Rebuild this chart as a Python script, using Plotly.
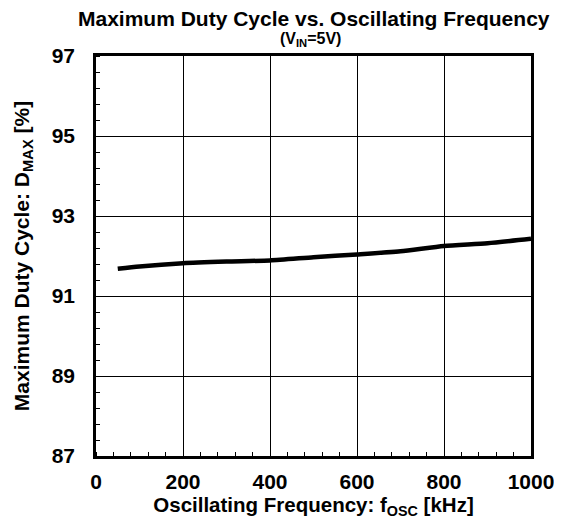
import plotly.graph_objects as go

freq_khz = [50, 100, 200, 300, 400, 500, 600, 700, 800, 900, 1000]
dmax_pct = [91.68, 91.74, 91.82, 91.86, 91.89, 91.97, 92.04, 92.12, 92.25, 92.32, 92.43]

x_ticks = [0, 200, 400, 600, 800, 1000]
y_ticks = [87, 89, 91, 93, 95, 97]

FONT = "Liberation Sans, Arial, sans-serif"

# the page body adds an 8px offset; plot area placed accordingly
L, T, PW, PH = 83, 48, 440, 400
W, H = 562, 526

fig = go.Figure()
fig.add_trace(go.Scatter(x=freq_khz, y=dmax_pct, mode="lines",
                         line=dict(color="black", width=4.5, shape="spline", smoothing=0.6),
                         showlegend=False))

def px_x(p):
    return (p - L) / PW

def px_y(p):
    return 1 - (p - T) / PH

fig.update_layout(
    width=W, height=H,
    margin=dict(l=L, r=W - L - PW, t=T, b=H - T - PH),
    paper_bgcolor="white", plot_bgcolor="white",
    font=dict(family=FONT, color="black"),
    annotations=[
        dict(text="<b>Maximum Duty Cycle vs. Oscillating Frequency</b>",
             x=px_x(303), y=px_y(11), xref="paper", yref="paper",
             xanchor="center", yanchor="middle", showarrow=False, font=dict(size=21)),
        dict(text="<b>(V<sub>IN</sub>=5V)</b>",
             x=px_x(300), y=px_y(31), xref="paper", yref="paper",
             xanchor="center", yanchor="middle", showarrow=False, font=dict(size=16)),
    ],
)

fig.update_xaxes(
    range=[0, 1000], tickvals=x_ticks, ticktext=[f"<b>{v}</b>" for v in x_ticks],
    tickfont=dict(size=21), showgrid=True, gridcolor="black", gridwidth=1.3,
    showline=True, linecolor="black", linewidth=2.5, mirror=True,
    ticks="", zeroline=False, ticklabelstandoff=5,
    minor=dict(dtick=40, tick0=0, ticks="inside", ticklen=4, tickcolor="black", tickwidth=1.2, showgrid=False),
    title=dict(text="<b>Oscillating Frequency: f<sub>OSC</sub> [kHz]</b>", font=dict(size=20.5), standoff=6),
)
fig.update_yaxes(
    range=[87, 97], tickvals=y_ticks, ticktext=[f"<b>{v}</b>" for v in y_ticks],
    tickfont=dict(size=21), showgrid=True, gridcolor="black", gridwidth=1.3,
    showline=True, linecolor="black", linewidth=2.5, mirror=True,
    ticks="", zeroline=False, ticklabelstandoff=14,
    minor=dict(dtick=0.4, tick0=87, ticks="inside", ticklen=4, tickcolor="black", tickwidth=1.2, showgrid=False),
    title=dict(text="<b>Maximum Duty Cycle: D<sub>MAX</sub> [%]</b>", font=dict(size=21), standoff=17),
)

fig.write_html("out.html")
